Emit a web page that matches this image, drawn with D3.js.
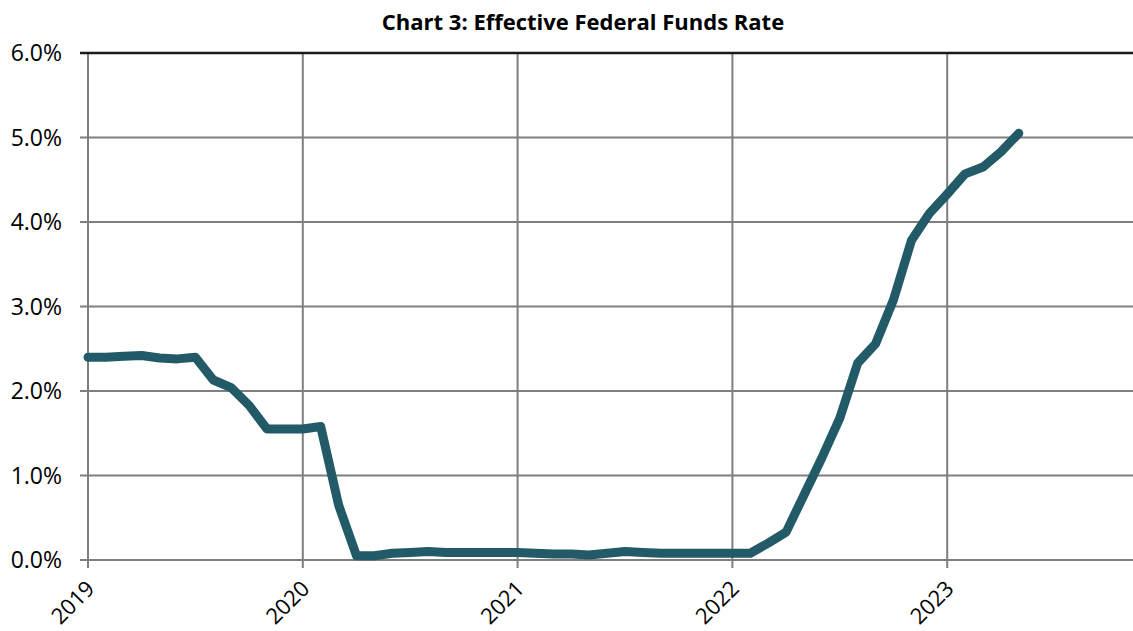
<!DOCTYPE html>
<html><head><meta charset="utf-8">
<script src="https://cdn.jsdelivr.net/npm/d3@7"></script>
<style>html,body{margin:0;padding:0;background:#fff;}svg{display:block;}</style>
</head><body>
<svg id="c" width="1133" height="631"></svg>
<script>
const months = ["2019-01","2019-02","2019-03","2019-04","2019-05","2019-06","2019-07","2019-08","2019-09","2019-10","2019-11","2019-12",
"2020-01","2020-02","2020-03","2020-04","2020-05","2020-06","2020-07","2020-08","2020-09","2020-10","2020-11","2020-12",
"2021-01","2021-02","2021-03","2021-04","2021-05","2021-06","2021-07","2021-08","2021-09","2021-10","2021-11","2021-12",
"2022-01","2022-02","2022-03","2022-04","2022-05","2022-06","2022-07","2022-08","2022-09","2022-10","2022-11","2022-12",
"2023-01","2023-02","2023-03","2023-04","2023-05"];
const rates = [2.40,2.40,2.41,2.42,2.39,2.38,2.40,2.13,2.04,1.83,1.55,1.55,
1.55,1.58,0.65,0.05,0.05,0.08,0.09,0.10,0.09,0.09,0.09,0.09,
0.09,0.08,0.07,0.07,0.06,0.08,0.10,0.09,0.08,0.08,0.08,0.08,
0.08,0.08,0.20,0.33,0.77,1.21,1.68,2.33,2.56,3.08,3.78,4.10,
4.33,4.57,4.65,4.83,5.05];
const yearTicks = ["2019","2020","2021","2022","2023"];
const yTicks = [0,1,2,3,4,5,6];
const title = "Chart 3: Effective Federal Funds Rate";

const svg = d3.select("#c");
const mLeft = 88, mTop = 53, mBottom = 560, W = 1133;
const monthIndex = m => { const [yy,mo] = m.split("-").map(Number); return (yy-2019)*12 + (mo-1); };
const x = d3.scaleLinear().domain([0, 60]).range([mLeft, mLeft + 5*214.8]);
const y = d3.scaleLinear().domain([0, 6]).range([mBottom, mTop]);
const font = "'Open Sans', 'Noto Sans', sans-serif";

// horizontal gridlines
svg.append("g").selectAll("line").data(yTicks.filter(v => v < 6)).join("line")
  .attr("x1", mLeft - 8).attr("x2", W).attr("y1", d => y(d)).attr("y2", d => y(d))
  .attr("stroke", "#7f7f7f").attr("stroke-width", 2);
// vertical gridlines
svg.append("g").selectAll("line").data(yearTicks).join("line")
  .attr("x1", d => x(monthIndex(d + "-01"))).attr("x2", d => x(monthIndex(d + "-01")))
  .attr("y1", mTop).attr("y2", mBottom + 8)
  .attr("stroke", "#7f7f7f").attr("stroke-width", 2);
// top border
svg.append("line").attr("x1", mLeft - 8).attr("x2", W).attr("y1", y(6)).attr("y2", y(6))
  .attr("stroke", "#1a1a1a").attr("stroke-width", 2.5);

// y labels
svg.append("g").selectAll("text").data(yTicks).join("text")
  .attr("x", 62).attr("y", d => y(d)).attr("dy", "0.36em")
  .attr("text-anchor", "end").attr("font-family", font).attr("font-size", 23).attr("fill", "#000")
  .text(d => d3.format(".1f")(d) + "%");
// x labels
svg.append("g").selectAll("text").data(yearTicks).join("text")
  .attr("transform", d => `translate(${x(monthIndex(d + "-01")) + 8},${mBottom + 30}) rotate(-45)`)
  .attr("text-anchor", "end")
  .attr("font-family", font).attr("font-size", 22).attr("fill", "#000")
  .text(d => d);

// title
svg.append("text").attr("x", 583).attr("y", 30).attr("text-anchor", "middle")
  .attr("font-family", font).attr("font-weight", "bold").attr("font-size", 22).attr("fill", "#000")
  .text(title);

// line
const line = d3.line().x((d, i) => x(monthIndex(months[i]))).y(d => y(d));
svg.append("path").datum(rates).attr("d", line)
  .attr("fill", "none").attr("stroke", "#225a68").attr("stroke-width", 9)
  .attr("stroke-linejoin", "round").attr("stroke-linecap", "round");
</script>
</body></html>
